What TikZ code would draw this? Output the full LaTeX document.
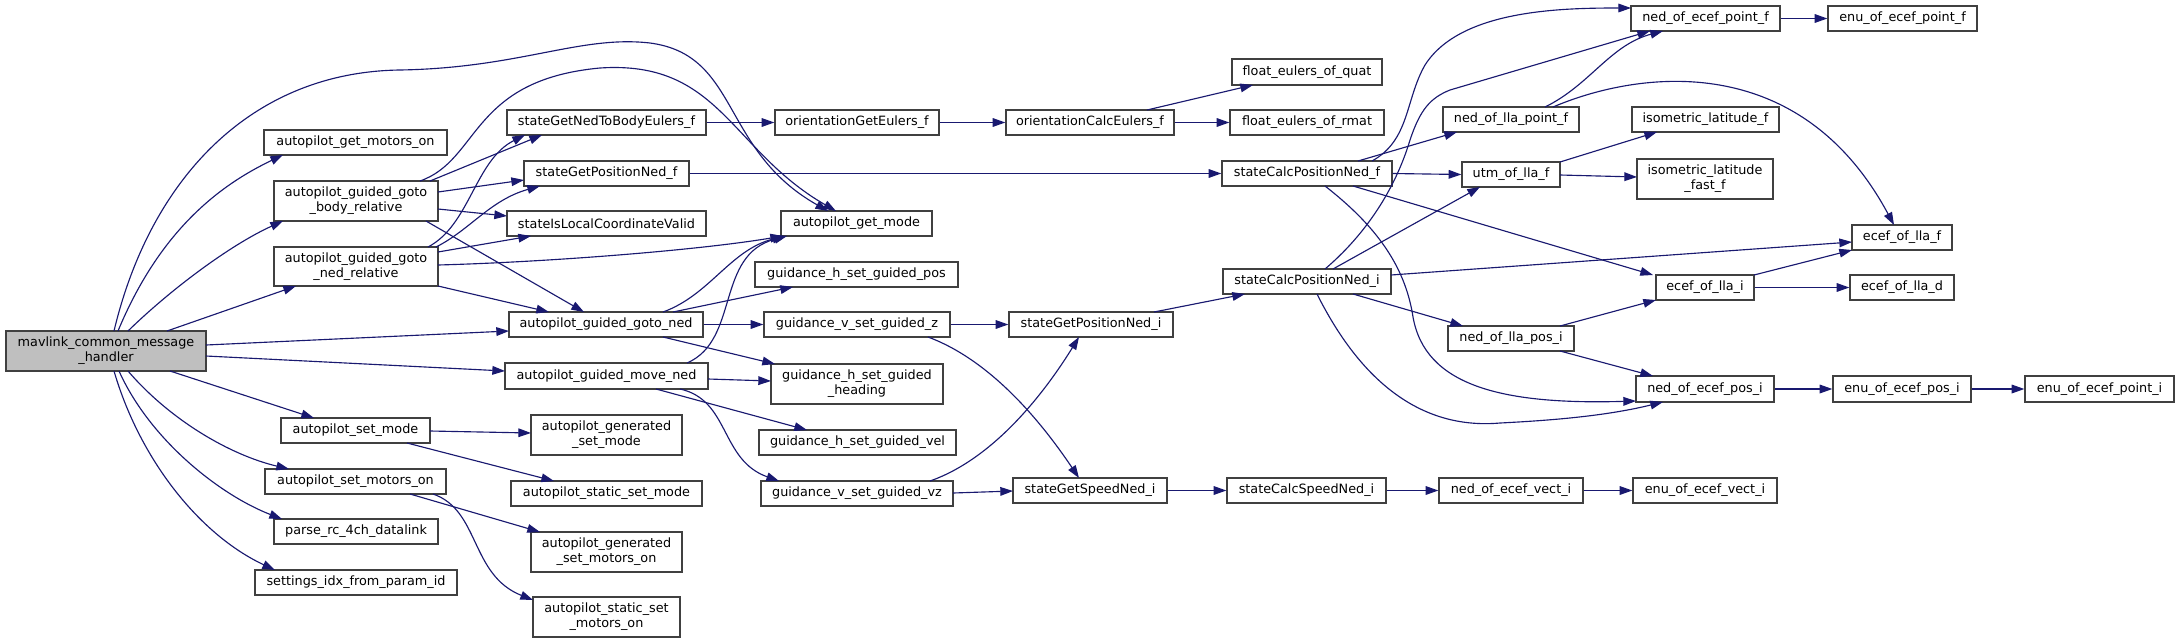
\documentclass[tikz,border=0pt]{standalone}
\usepackage{fontspec}
\setmainfont{DejaVu Sans}
\usetikzlibrary{arrows.meta,calc}
\definecolor{edgec}{HTML}{191970}
\definecolor{boxc}{HTML}{404040}
\definecolor{mfill}{HTML}{BFBFBF}
\tikzset{
  box/.style={draw=boxc, line width=1pt, fill=white, inner sep=0pt, align=center, font=\fontsize{9.6}{11.3}\selectfont},
  ed/.style={draw=edgec, line width=0.85pt, -{Triangle[length=9.5pt,width=6.5pt]}}
}
\newcommand{\mybox}[6]{\node[box,minimum width={(#4-#2)*0.75pt},minimum height={(#5-#3)*0.75pt}] (#1) at ({(#2+#4)/2},{(#3+#5)/2}) {#6};}
\begin{document}
\begin{tikzpicture}[x=0.75pt,y=-0.75pt]
\fill[white] (0,0) rectangle (2179,643);
\useasboundingbox (0,0) rectangle (2179,643);
% nodes
\node[box, fill=mfill, minimum width=150pt, minimum height=30pt] (M) at (106,351) {mavlink\_common\_message\\\_handler};
\mybox{AGMO}{264}{130}{447}{155}{autopilot\_get\_motors\_on}
\mybox{GB}{274}{181}{438}{221}{autopilot\_guided\_goto\\\_body\_relative}
\mybox{GN}{274}{247}{438}{286}{autopilot\_guided\_goto\\\_ned\_relative}
\mybox{GG}{509}{312}{703}{337}{autopilot\_guided\_goto\_ned}
\mybox{MV}{505}{363}{708}{389}{autopilot\_guided\_move\_ned}
\mybox{SM}{281}{418}{430}{443}{autopilot\_set\_mode}
\mybox{SMO}{265}{469}{446}{494}{autopilot\_set\_motors\_on}
\mybox{PRC}{274}{519}{438}{544}{parse\_rc\_4ch\_datalink}
\mybox{SIP}{255}{570}{457}{595}{settings\_idx\_from\_param\_id}
\mybox{GSM}{531}{415}{682}{455}{autopilot\_generated\\\_set\_mode}
\mybox{SSM}{511}{481}{702}{506}{autopilot\_static\_set\_mode}
\mybox{GSMO}{531}{532}{682}{572}{autopilot\_generated\\\_set\_motors\_on}
\mybox{SSMO}{533}{597}{680}{637}{autopilot\_static\_set\\\_motors\_on}
\mybox{SNB}{507}{110}{706}{135}{stateGetNedToBodyEulers\_f}
\mybox{SPF}{524}{161}{689}{186}{stateGetPositionNed\_f}
\mybox{SLC}{507}{211}{706}{236}{stateIsLocalCoordinateValid}
\mybox{OGE}{775}{110}{939}{135}{orientationGetEulers\_f}
\mybox{OCE}{1006}{110}{1174}{135}{orientationCalcEulers\_f}
\mybox{FEQ}{1232}{59}{1382}{85}{float\_eulers\_of\_quat}
\mybox{FER}{1230}{110}{1384}{135}{float\_eulers\_of\_rmat}
\mybox{SCF}{1222}{161}{1392}{186}{stateCalcPositionNed\_f}
\mybox{AGM}{781}{211}{932}{236}{autopilot\_get\_mode}
\mybox{HPOS}{755}{262}{958}{287}{guidance\_h\_set\_guided\_pos}
\mybox{VZ}{764}{312}{950}{337}{guidance\_v\_set\_guided\_z}
\mybox{SPI}{1009}{312}{1173}{337}{stateGetPositionNed\_i}
\mybox{SCI}{1223}{269}{1391}{294}{stateCalcPositionNed\_i}
\mybox{HHD}{771}{364}{943}{404}{guidance\_h\_set\_guided\\\_heading}
\mybox{HVEL}{759}{430}{956}{455}{guidance\_h\_set\_guided\_vel}
\mybox{VVZ}{761}{481}{953}{506}{guidance\_v\_set\_guided\_vz}
\mybox{SSI}{1013}{478}{1167}{503}{stateGetSpeedNed\_i}
\mybox{CSI}{1227}{478}{1386}{503}{stateCalcSpeedNed\_i}
\mybox{NEPF}{1631}{6}{1780}{31}{ned\_of\_ecef\_point\_f}
\mybox{EEPF}{1828}{6}{1977}{31}{enu\_of\_ecef\_point\_f}
\mybox{NLPF}{1443}{107}{1579}{132}{ned\_of\_lla\_point\_f}
\mybox{ILF}{1632}{107}{1779}{132}{isometric\_latitude\_f}
\mybox{UTM}{1462}{162}{1560}{187}{utm\_of\_lla\_f}
\mybox{ILFF}{1637}{159}{1773}{199}{isometric\_latitude\\\_fast\_f}
\mybox{ELF}{1852}{225}{1952}{250}{ecef\_of\_lla\_f}
\mybox{ELI}{1656}{275}{1754}{300}{ecef\_of\_lla\_i}
\mybox{ELD}{1850}{275}{1954}{300}{ecef\_of\_lla\_d}
\mybox{NLPI}{1448}{326}{1574}{351}{ned\_of\_lla\_pos\_i}
\mybox{NEPI}{1636}{376}{1774}{402}{ned\_of\_ecef\_pos\_i}
\mybox{EEPI}{1833}{376}{1971}{402}{enu\_of\_ecef\_pos\_i}
\mybox{EEPTI}{2025}{376}{2174}{402}{enu\_of\_ecef\_point\_i}
\mybox{NEVI}{1439}{478}{1583}{503}{ned\_of\_ecef\_vect\_i}
\mybox{EEVI}{1633}{478}{1777}{503}{enu\_of\_ecef\_vect\_i}
% edges from M
\draw[ed] ($(M)+(8,-20)$) .. controls (150,180) and (250,72) .. (400,70) .. controls (520,68) and (580,35) .. (650,43) .. controls (740,55) and (720,150) .. ($(AGM)+(-28.5,-12.5)$);
\draw[ed] ($(M)+(12,-20)$) .. controls (160,230) and (220,185) .. ($(AGMO)+(-72.5,12.5)$);
\draw[ed] ($(M)+(22,-20)$) .. controls (170,290) and (230,245) .. ($(GB)+(-73,20)$);
\draw[ed] ($(M)+(61,-20)$) -- ($(GN)+(-60,19.5)$);
\draw[ed] ($(M)+(100,-6)$) -- ($(GG)+(-97,6.5)$);
\draw[ed] ($(M)+(100,5)$) -- ($(MV)+(-101.5,-5)$);
\draw[ed] ($(M)+(64,20)$) -- ($(SM)+(-41.5,-12.5)$);
\draw[ed] ($(M)+(22,20)$) .. controls (170,420) and (230,455) .. ($(SMO)+(-66.5,-12.5)$);
\draw[ed] ($(M)+(13,20)$) .. controls (150,440) and (220,495) .. ($(PRC)+(-74,-12.5)$);
\draw[ed] ($(M)+(8,20)$) .. controls (140,460) and (200,535) .. ($(SIP)+(-81,-12.5)$);
% GB
\draw[ed] ($(GB)+(74,-20)$) -- ($(SNB)+(-64.5,12.5)$);
\draw[ed] ($(GB)+(64,-20)$) .. controls (480,160) and (470,80) .. (600,68) .. controls (720,60) and (730,150) .. ($(AGM)+(-20.5,-12.5)$);
\draw[ed] ($(GB)+(82,-9)$) -- ($(SPF)+(-82.5,6.5)$);
\draw[ed] ($(GB)+(82,8)$) -- ($(SLC)+(-99.5,-7.5)$);
\draw[ed] ($(GB)+(70,20)$) -- ($(GG)+(-22,-12.5)$);
% GN
\draw[ed] ($(GN)+(72,-19.5)$) .. controls (470,225) and (475,160) .. ($(SNB)+(-81.5,12.5)$);
\draw[ed] ($(GN)+(80,-19.5)$) .. controls (470,230) and (490,200) .. ($(SPF)+(-66.5,12.5)$);
\draw[ed] ($(GN)+(82,-14.5)$) -- ($(SLC)+(-75.5,12.5)$);
\draw[ed] ($(GN)+(82,-1.5)$) .. controls (550,262) and (700,250) .. ($(AGM)+(-73.5,12.5)$);
\draw[ed] ($(GN)+(82,19.5)$) -- ($(GG)+(-57,-12.5)$);
% GG
\draw[ed] ($(GG)+(57,-12.5)$) .. controls (710,295) and (730,250) .. ($(AGM)+(-71.5,12.5)$);
\draw[ed] ($(GG)+(67,-12.5)$) -- ($(HPOS)+(-63.5,12.5)$);
\draw[ed] (GG.east) -- (VZ.west);
\draw[ed] ($(GG)+(57,12.5)$) -- ($(HHD)+(-82,-20)$);
% MV
\draw[ed] ($(MV)+(80.5,-13)$) .. controls (740,340) and (715,255) .. ($(AGM)+(-69.5,12.5)$);
\draw[ed] ($(MV)+(101.5,3)$) -- ($(HHD)+(-86,-3)$);
\draw[ed] ($(MV)+(49.5,13)$) -- ($(HVEL)+(-50.5,-12.5)$);
\draw[ed] ($(MV)+(73.5,13)$) .. controls (730,400) and (720,460) .. ($(VVZ)+(-78,-12.5)$);
% SM, SMO
\draw[ed] ($(SM)+(74.5,0.5)$) -- ($(GSM)+(-75.5,-2)$);
\draw[ed] ($(SM)+(51.5,12.5)$) -- ($(SSM)+(-52.5,-12.5)$);
\draw[ed] ($(SMO)+(54.5,12.5)$) -- ($(GSMO)+(-66.5,-20)$);
\draw[ed] ($(SMO)+(77.5,12.5)$) .. controls (480,510) and (470,575) .. ($(SSMO)+(-73.5,-17)$);
% chains
\draw[ed] (SNB.east) -- (OGE.west);
\draw[ed] (OGE.east) -- (OCE.west);
\draw[ed] ($(OCE)+(57,-12.5)$) -- ($(FEQ)+(-54,13)$);
\draw[ed] (OCE.east) -- (FER.west);
\draw[ed] (SPF.east) -- (SCF.west);
\draw[ed] (VZ.east) -- (SPI.west);
\draw[ed] ($(VZ)+(71,12.5)$) .. controls (990,360) and (1040,420) .. ($(SSI)+(-11,-12.5)$);
\draw[ed] ($(VVZ)+(73,-12.5)$) .. controls (990,460) and (1040,400) .. ($(SPI)+(-12,12.5)$);
\draw[ed] ($(VVZ)+(96,-0.5)$) -- ($(SSI)+(-77,0.5)$);
\draw[ed] ($(SPI)+(63,-12.5)$) -- ($(SCI)+(-62,12.5)$);
\draw[ed] (SSI.east) -- (CSI.west);
\draw[ed] (CSI.east) -- (NEVI.west);
\draw[ed] (NEVI.east) -- (EEVI.west);
% SCF
\draw[ed] ($(SCF)+(51,-12.5)$) -- ($(NLPF)+(-54,12.5)$);
\draw[ed] ($(SCF)+(65,-12.5)$) .. controls (1410,140) and (1405,100) .. (1425,65) .. controls (1460,10) and (1560,8) .. ($(NEPF)+(-74.5,-10.5)$);
\draw[ed] (SCF.east) -- (UTM.west);
\draw[ed] ($(SCF)+(46,12.5)$) -- ($(ELI)+(-52,-12.5)$);
\draw[ed] ($(SCF)+(18,12.5)$) .. controls (1375,225) and (1405,265) .. (1413,317) .. controls (1425,385) and (1500,405) .. ($(NEPI)+(-69,12)$);
% SCI
\draw[ed] ($(SCI)+(18,-12.5)$) .. controls (1365,235) and (1395,190) .. (1410,140) .. controls (1420,110) and (1430,98) .. (1450,90) -- ($(NEPF)+(-55.5,12.5)$);
\draw[ed] ($(SCI)+(26,-12.5)$) -- ($(UTM)+(-31,12.5)$);
\draw[ed] ($(SCI)+(84,-6.5)$) -- ($(ELF)+(-50,4.5)$);
\draw[ed] ($(SCI)+(46,12.5)$) -- ($(NLPI)+(-48,-12.5)$);
\draw[ed] ($(SCI)+(10,12.5)$) .. controls (1360,380) and (1420,430) .. (1500,423) .. controls (1560,420) and (1610,415) .. ($(NEPI)+(-42,13)$);
% NLPF
\draw[ed] ($(NLPF)+(34,-12.5)$) .. controls (1590,85) and (1610,45) .. ($(NEPF)+(-42.5,12.5)$);
\draw[ed] ($(NLPF)+(42,-12.5)$) .. controls (1640,70) and (1800,50) .. ($(ELF)+(-8,-12.5)$);
% UTM
\draw[ed] ($(UTM)+(49,-12.5)$) -- ($(ILF)+(-48.5,12.5)$);
\draw[ed] ($(UTM)+(49,0.5)$) -- ($(ILFF)+(-68,-2)$);
% ELI
\draw[ed] ($(ELI)+(49,-12.5)$) -- ($(ELF)+(-50,12.5)$);
\draw[ed] (ELI.east) -- (ELD.west);
% NLPI
\draw[ed] ($(NLPI)+(49,-12.5)$) -- ($(ELI)+(-49,12.5)$);
\draw[ed] ($(NLPI)+(49,12.5)$) -- ($(NEPI)+(-52,-13)$);
\draw[ed] (NEPI.east) -- (EEPI.west);
\draw[ed] (EEPI.east) -- (EEPTI.west);
\draw[ed] (NEPF.east) -- (EEPF.west);
\end{tikzpicture}
\end{document}
